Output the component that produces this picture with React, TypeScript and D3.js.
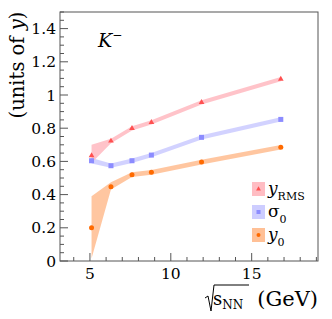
import React, { useEffect, useRef } from "react";
import * as d3 from "d3";

// beam energies (sqrt(s_NN), GeV) as plotted
const energies = [5.1, 6.3, 7.6, 8.8, 11.9, 16.8];

const yRmsValues = [0.635, 0.723, 0.799, 0.835, 0.956, 1.096];
const yRmsLow = [0.59, 0.709, 0.786, 0.822, 0.943, 1.083];
const yRmsHigh = [0.7, 0.737, 0.812, 0.848, 0.969, 1.109];

const sigmaValues = [0.604, 0.574, 0.604, 0.638, 0.745, 0.853];
const sigmaLow = [0.588, 0.561, 0.591, 0.625, 0.732, 0.84];
const sigmaHigh = [0.62, 0.587, 0.617, 0.651, 0.758, 0.866];

const y0Values = [0.2, 0.447, 0.52, 0.534, 0.596, 0.685];
const y0Low = [0.015, 0.43, 0.506, 0.52, 0.582, 0.671];
const y0High = [0.39, 0.475, 0.534, 0.548, 0.61, 0.699];

const yTickLabels = ["0", "0.2", "0.4", "0.6", "0.8", "1", "1.2", "1.4"];
const xTickLabels = ["5", "10", "15"];

const W = 332;
const H = 319;
const m = { left: 60, right: 318, top: 12, bottom: 261 };
const serif = "DejaVu Serif";

const series = [
  { key: "rms", vals: yRmsValues, lo: yRmsLow, hi: yRmsHigh, band: "#ffbdc3", mark: "#ff5050", shape: "tri" },
  { key: "sig", vals: sigmaValues, lo: sigmaLow, hi: sigmaHigh, band: "#cdcdff", mark: "#8c8cff", shape: "sq" },
  { key: "y0", vals: y0Values, lo: y0Low, hi: y0High, band: "#ffc096", mark: "#ff6a00", shape: "circ" },
];

const App = () => {
  const ref = useRef<SVGGElement>(null);

  useEffect(() => {
    const x = d3.scaleLinear().domain([3.15, 19.1]).range([m.left, m.right]);
    const y = d3.scaleLinear().domain([0, 1.5]).range([m.bottom, m.top]);
    const g = d3.select(ref.current);
    g.selectAll("*").remove();

    // bands (drawn bottom series first)
    [...series].reverse().forEach((s) => {
      const area = d3
        .area<number>()
        .x((d, i) => x(energies[i]))
        .y0((d, i) => y(s.lo[i]))
        .y1((d, i) => y(s.hi[i]));
      g.append("path").attr("d", area(s.vals)).attr("fill", s.band).attr("opacity", 0.9);
    });

    // markers
    series.forEach((s) => {
      s.vals.forEach((v, i) => {
        const cx = x(energies[i]);
        const cy = y(v);
        if (s.shape === "tri") {
          g.append("path")
            .attr("d", d3.symbol().type(d3.symbolTriangle).size(14)())
            .attr("transform", `translate(${cx},${cy})`)
            .attr("fill", s.mark);
        } else if (s.shape === "sq") {
          g.append("rect").attr("x", cx - 2.5).attr("y", cy - 2.5).attr("width", 5).attr("height", 5).attr("fill", s.mark);
        } else {
          g.append("circle").attr("cx", cx).attr("cy", cy).attr("r", 2.5).attr("fill", s.mark);
        }
      });
    });

    // frame
    g.append("rect")
      .attr("x", m.left)
      .attr("y", m.top)
      .attr("width", m.right - m.left)
      .attr("height", m.bottom - m.top)
      .attr("fill", "none")
      .attr("stroke", "#555")
      .attr("stroke-width", 1);

    // y ticks
    const yMinor = d3.range(0, 1.5001, 0.05);
    yMinor.forEach((t) => {
      const major = Math.abs(Math.round(t * 5) - t * 5) < 1e-6;
      g.append("line")
        .attr("x1", m.left)
        .attr("x2", m.left + (major ? 8 : 4))
        .attr("y1", y(t))
        .attr("y2", y(t))
        .attr("stroke", "#555");
    });
    yTickLabels.forEach((lab) => {
      g.append("text")
        .attr("x", 56)
        .attr("y", y(+lab))
        .attr("dy", "0.36em")
        .attr("text-anchor", "end")
        .attr("font-size", 15.5)
        .text(lab);
    });

    // x ticks
    d3.range(4, 20).forEach((t) => {
      const major = t % 5 === 0;
      g.append("line")
        .attr("x1", x(t))
        .attr("x2", x(t))
        .attr("y1", m.bottom)
        .attr("y2", m.bottom - (major ? 8 : 4))
        .attr("stroke", "#555");
    });
    xTickLabels.forEach((lab) => {
      g.append("text")
        .attr("x", x(+lab))
        .attr("y", 279)
        .attr("text-anchor", "middle")
        .attr("font-size", 15.5)
        .text(lab);
    });
  }, []);

  const legendRows = [
    { s: series[0], main: "y", sub: "RMS", italic: true },
    { s: series[1], main: "σ", sub: "0", italic: false },
    { s: series[2], main: "y", sub: "0", italic: true },
  ];

  return (
    <svg width={W} height={H} style={{ position: "absolute", left: 0, top: 0, background: "#fff", fontFamily: serif }}>
      <g ref={ref} />
      {/* K- label */}
      <text x={98} y={47} fontSize={19} fontStyle="italic">
        K
        <tspan dy={-8} fontSize={12} fontStyle="normal">−</tspan>
      </text>
      {/* legend */}
      {legendRows.map((r, i) => {
        const top = 182 + i * 23;
        return (
          <g key={i}>
            <rect x={252} y={top} width={13} height={14} fill={r.s.band} />
            {r.s.shape === "tri" ? (
              <path d={d3.symbol().type(d3.symbolTriangle).size(10)() || ""} transform={`translate(258.5,${top + 7})`} fill={r.s.mark} />
            ) : r.s.shape === "sq" ? (
              <rect x={256.5} y={top + 5} width={4} height={4} fill={r.s.mark} />
            ) : (
              <circle cx={258.5} cy={top + 7} r={2} fill={r.s.mark} />
            )}
            <text x={268} y={top + 12} fontSize={17} fontStyle={r.italic ? "italic" : "normal"}>
              {r.main}
              <tspan dy={6} fontSize={11} fontStyle="normal">{r.sub}</tspan>
            </text>
          </g>
        );
      })}
      {/* y axis title */}
      <text transform="translate(24,65) rotate(-90)" textAnchor="middle" fontSize={19.5}>
        (units of <tspan fontStyle="italic">y</tspan>)
      </text>
      {/* x axis title */}
      <g>
        <path d="M205,298 L208,296 L211,311 L214,285 L249,285" fill="none" stroke="#000" strokeWidth={1} />
        <text x={213} y={305} fontSize={18}>
          s<tspan dy={4} fontSize={12}>NN</tspan>
        </text>
        <text x={318} y={306} fontSize={21} textAnchor="end">(GeV)</text>
      </g>
    </svg>
  );
};

export default App;
